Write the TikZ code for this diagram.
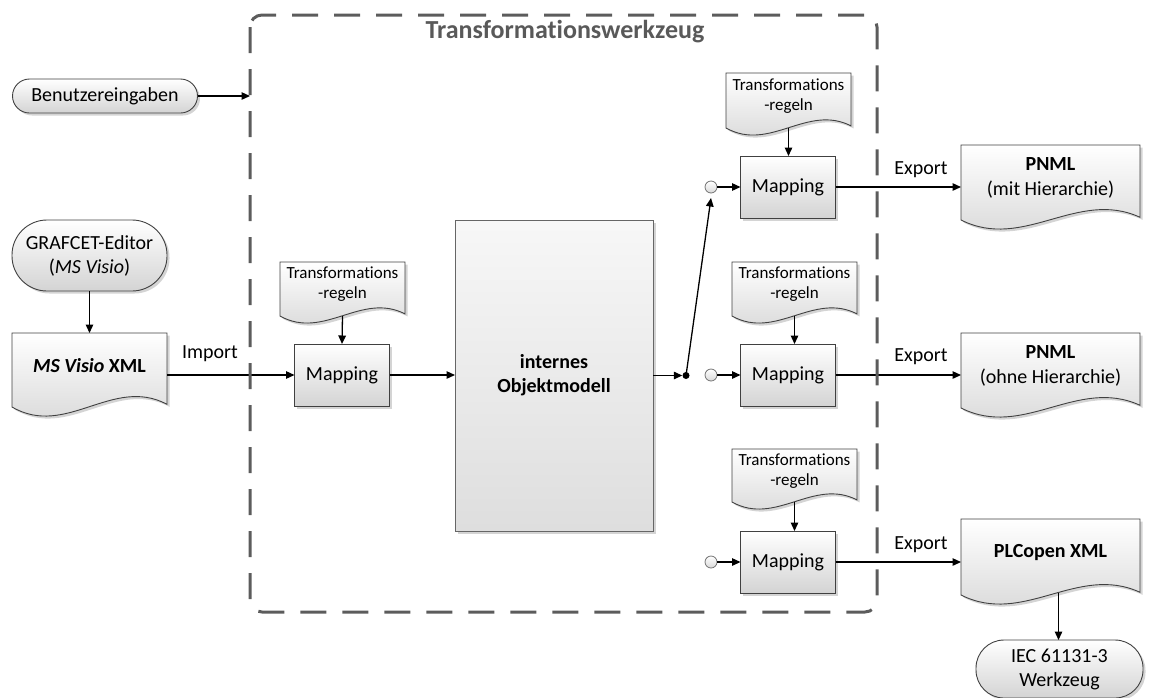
\documentclass[tikz,border=0pt]{standalone}
\usepackage{fontspec}
\setmainfont{Carlito}[Ligatures=NoCommon]
\usetikzlibrary{arrows.meta,calc,shadows}
\pgfdeclarelayer{bg}
\pgfsetlayers{bg,main}

\tikzset{
  conn/.style={line width=1.3pt, -{Triangle[length=8.5pt,width=7.5pt]}},
  softshadow/.style={drop shadow={shadow xshift=2.5pt, shadow yshift=-2.5pt, opacity=0.28, fill=black!60}},
  shapeframe/.style={draw=black!75, line width=0.9pt, top color=white, bottom color=black!17},
  mapbox/.style={shapeframe, softshadow, rectangle, minimum width=95pt, minimum height=62pt,
    inner sep=0pt, outer sep=0pt, font=\fontsize{20}{24}\selectfont},
  term/.style={shapeframe, softshadow, rectangle, inner sep=0pt, outer sep=0pt, align=center,
    font=\fontsize{20}{24}\selectfont},
  docnode/.style={rectangle, inner sep=0pt, outer sep=0pt, align=center},
  docfill/.style={shapeframe, softshadow},
  ruledoc/.style={docnode, minimum width=125pt, font=\fontsize{17}{20}\selectfont},
  bigdoc/.style={docnode, font=\fontsize{20}{24.5}\selectfont},
  port/.style={circle, draw=black!55, line width=0.8pt, top color=white, bottom color=black!15,
    minimum size=12pt, inner sep=0pt, outer sep=0pt},
  junction/.style={circle, fill=black, minimum size=7pt, inner sep=0pt},
  frame/.style={draw=black!64, line width=3pt, dash pattern=on 26pt off 16pt, rounded corners=12pt},
  tag/.style={font=\fontsize{20}{24}\selectfont, inner sep=0pt},
}

% document symbol: straight top and sides, wavy bottom edge
% #1 = node giving the body, #2 = wave amplitude
\newcommand{\docshape}[2]{%
  \path[docfill] (#1.north west) -- (#1.north east)
    -- ($(#1.south east)+(0,{9-0.3*#2})$)
    .. controls ($(#1.south west)!0.65!(#1.south east)+(0,{9-3.5*#2})$)
            and ($(#1.south west)!0.35!(#1.south east)+(0,{9+3.5*#2})$)
    .. ($(#1.south west)+(0,9)$) -- cycle;}

\begin{document}
\begin{tikzpicture}[x=1pt,y=-1pt]
\useasboundingbox (0,0) rectangle (1150,697);

% tool boundary (drawn at the end)
\node[draw=none, minimum width=627pt, minimum height=597pt, inner sep=0pt, outer sep=0pt]
  (tw) at (563.5,313.5) {};
\node[font=\bfseries\fontsize{26}{30}\selectfont, text=black!65] (twt) at (565,32)
  {Transformationswerkzeug};

% sources and sink
\node[term, minimum width=185pt, minimum height=34pt, rounded corners=17pt] (be) at (105,96)
  {Benutzereingaben};
\node[term, minimum width=155pt, minimum height=71pt, rounded corners=35pt] (ge) at (89.5,255.5)
  {GRAFCET-Editor\\(\textit{MS Visio})};
\node[term, minimum width=167pt, minimum height=58pt, rounded corners=28pt] (iec) at (1059.5,669)
  {IEC 61131-3\\Werkzeug};

% documents
\node[bigdoc, minimum width=155pt, minimum height=65pt] (msv) at (89.5,365.5)
  {\textbf{\textit{MS Visio} XML}};
\node[ruledoc, minimum height=45pt] (t1) at (342.5,284.5) {Transformations\\-regeln};
\node[ruledoc, minimum height=46pt] (t2) at (788.5,96) {Transformations\\-regeln};
\node[ruledoc, minimum height=45pt] (t3) at (794.5,284.5) {Transformations\\-regeln};
\node[ruledoc, minimum height=44pt] (t4) at (794.5,471) {Transformations\\-regeln};
\node[bigdoc, minimum width=179pt, minimum height=66pt] (p1) at (1050.5,178)
  {\textbf{PNML}\\(mit Hierarchie)};
\node[bigdoc, minimum width=179pt, minimum height=66pt] (p2) at (1050.5,366)
  {\textbf{PNML}\\(ohne Hierarchie)};
\node[bigdoc, minimum width=179pt, minimum height=67pt] (pl) at (1050.5,552.5)
  {\textbf{PLCopen XML}};

\begin{pgfonlayer}{bg}
  \docshape{msv}{9}
  \docshape{t1}{7}
  \docshape{t2}{7}
  \docshape{t3}{7}
  \docshape{t4}{7}
  \docshape{p1}{9}
  \docshape{p2}{9}
  \docshape{pl}{9}
\end{pgfonlayer}

% processing blocks
\node[mapbox] (m1) at (342,375) {Mapping};
\node[rectangle, draw=black!60, line width=0.9pt, top color=black!3, bottom color=black!13,
  softshadow, minimum width=198pt, minimum height=311pt, align=center, inner sep=0pt, outer sep=0pt,
  font=\bfseries\fontsize{20}{24}\selectfont] (om) at (554,375.5) {internes\\Objektmodell};
\node[mapbox] (ma) at (788,187) {Mapping};
\node[mapbox] (mb) at (788,375) {Mapping};
\node[mapbox] (mc) at (788,562) {Mapping};

% switch contacts
\node[junction] (jd) at (686,375.5) {};
\node[port] (ca) at (711,187) {};
\node[port] (cb) at (711,375) {};
\node[port] (cc) at (711,562) {};

% connectors
\draw[conn] (be.east) -- (be.east -| tw.west);
\draw[conn] (ge.south) -- (msv.north);
\draw[conn] (msv.east |- m1.west) -- (m1.west);
\node[tag] (imp) at (210,354) {Import};

\coordinate (t1b) at ($(t1.south)+(0,9)$);
\coordinate (t2b) at ($(t2.south)+(0,9)$);
\coordinate (t3b) at ($(t3.south)+(0,9)$);
\coordinate (t4b) at ($(t4.south)+(0,9)$);
\draw[conn] (t1b) -- (m1.north);
\draw[conn] (t2b) -- (t2b |- ma.north);
\draw[conn] (t3b) -- (t3b |- mb.north);
\draw[conn] (t4b) -- (t4b |- mc.north);

\draw[conn] (m1.east) -- (m1.east -| om.west);
\draw[conn] (om.east |- jd) -- (jd.west);
\draw[conn] (jd.center) -- ([yshift=-5pt]ca.south);
\draw[conn] (ca.east) -- (ma.west);
\draw[conn] (cb.east) -- (mb.west);
\draw[conn] (cc.east) -- (mc.west);

\draw[conn] (ma.east) -- (ma.east -| p1.west);
\draw[conn] (mb.east) -- (mb.east -| p2.west);
\draw[conn] (mc.east) -- (mc.east -| pl.west);
\node[tag] (ex1) at (921,170) {Export};
\node[tag] (ex2) at (921,357) {Export};
\node[tag] (ex3) at (921,545) {Export};

\coordinate (plb) at ($(pl.south)+(8,7)$);
\draw[conn] (plb) -- (plb |- iec.north);

% dashed boundary of the tool
\draw[frame] (tw.north west) rectangle (tw.south east);
\end{tikzpicture}
\end{document}
